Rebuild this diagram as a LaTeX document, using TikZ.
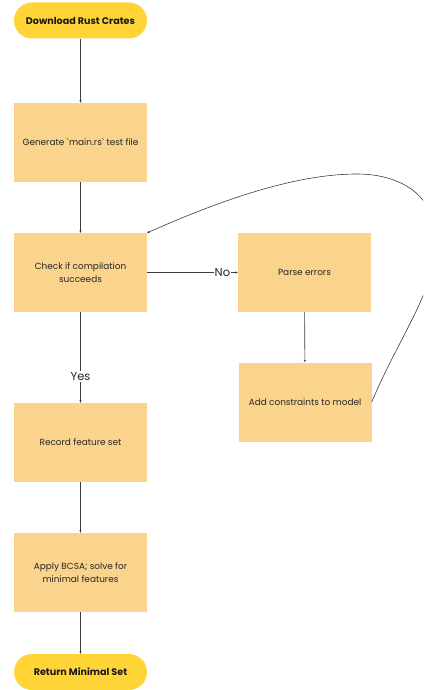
\documentclass[tikz,border=0pt]{standalone}
\usepackage{fontspec}
\setmainfont{Poppins}
\usetikzlibrary{arrows.meta}
\definecolor{termfill}{RGB}{255,212,55}
\definecolor{procfill}{RGB}{250,211,140}
\definecolor{linecol}{RGB}{60,60,60}
\tikzset{
  proc/.style={fill=procfill, minimum width=133pt, minimum height=79pt, inner sep=0pt, align=center, font=\fontsize{8.9}{13.5}\selectfont, text=black!85},
  term/.style={fill=termfill, minimum width=133pt, minimum height=36pt, rounded corners=18pt, inner sep=0pt, align=center, font=\fontsize{9.6}{11}\selectfont\bfseries, text=black!90},
  conn/.style={draw=linecol, line width=0.6pt, -{Stealth[length=2.6pt,width=2.2pt]}},
  lbl/.style={fill=white, inner sep=1pt, font=\fontsize{11.5}{13}\selectfont, text=black!85}
}
\begin{document}
\begin{tikzpicture}[x=1pt,y=-1pt]
\useasboundingbox (0,0) rectangle (423,690);
\begin{scope}
\clip (0,0) rectangle (423,690);
\node[term] (dl) at (80.5,20.5) {Download Rust Crates};
\node[proc] (gen) at (80.5,142.5) {Generate \textasciigrave main.rs\textasciigrave{} test file};
\node[proc] (chk) at (80.5,272.5) {Check if compilation\\succeeds};
\node[proc] (parse) at (304.5,272.5) {Parse errors};
\node[proc] (add) at (305,402) {Add constraints to model};
\node[proc] (rec) at (80.5,442.5) {Record feature set};
\node[proc] (bcsa) at (80.5,572.5) {Apply BCSA; solve for\\minimal features};
\node[term] (ret) at (80.5,672) {Return Minimal Set};
\coordinate (loopR) at (436,240);
\coordinate (loopT) at (357,174);
\draw[conn] (dl) -- (gen);
\draw[conn] (gen) -- (chk);
\draw[conn] (chk) -- node[lbl, pos=0.83] (no) {No} (parse);
\draw[conn] (chk) -- node[lbl, pos=0.71] (yes) {Yes} (rec);
\draw[conn] (parse) -- (add);
\draw[conn] (rec) -- (bcsa);
\draw[conn] (bcsa) -- (ret);
\draw[conn] (add.east) .. controls (400,335) and (436,290) .. (loopR)
  .. controls (436,195) and (400,174) .. (loopT)
  .. controls (290,174) and (210,205) .. (chk.north east);
\end{scope}
\end{tikzpicture}
\end{document}
